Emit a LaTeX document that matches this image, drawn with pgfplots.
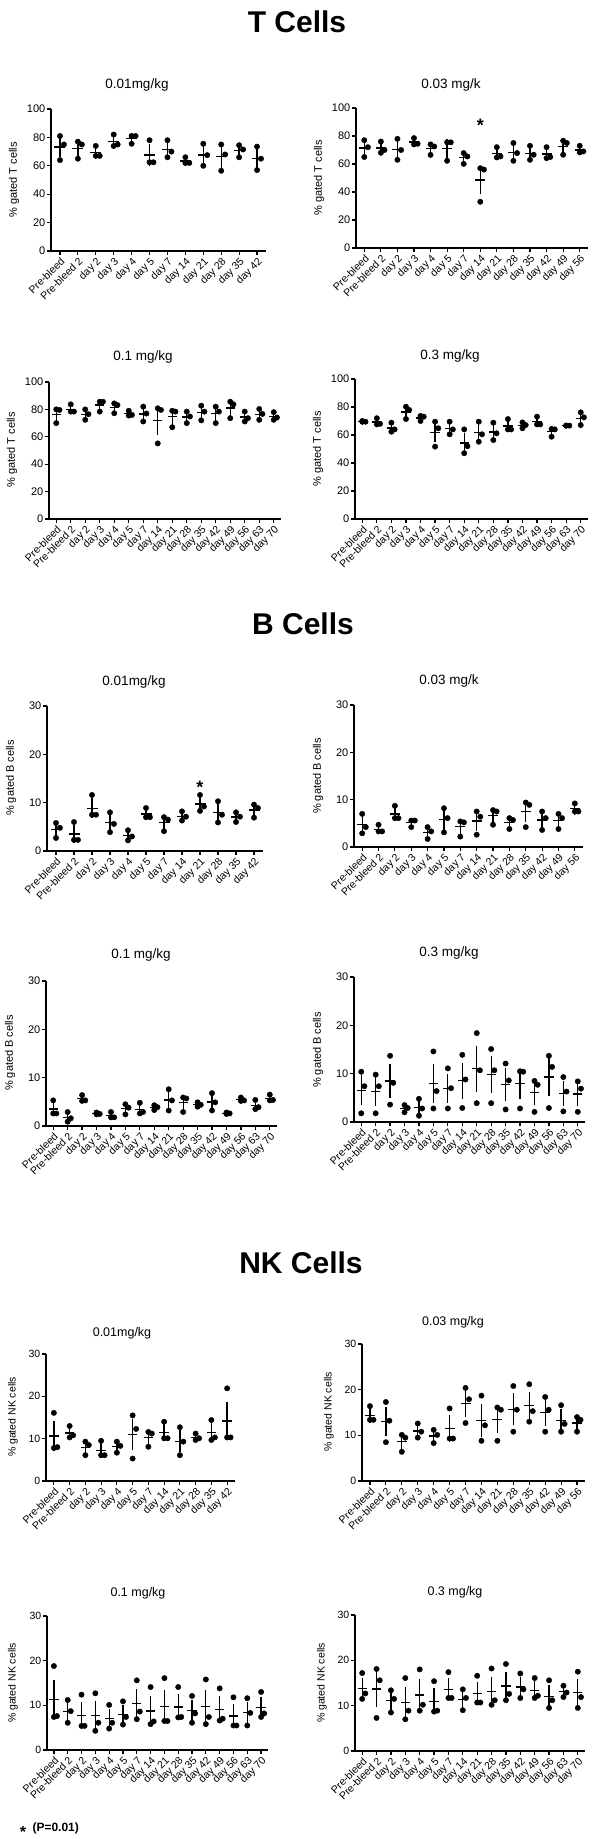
\documentclass[border=0pt]{standalone}
\usepackage{fontspec}
\setmainfont{Liberation Sans}
\usepackage{pgfplots}
\usepackage{pgfplotstable}
\pgfplotsset{compat=1.18}
\newcommand\fs[1]{\fontsize{#1}{#1}\selectfont}

% ---------------- T cells ----------------
\pgfplotstableread{
a b c
81 75 64
77 75 65
74 67 67
82 75 74
81 81 75.5
78 62.5 62.5
78 70 66
66 62 62
75.5 67.5 60
75 68 56.5
74.5 71.5 66
73.5 65 57
}\Tone
\pgfplotstableread{
a b c
77 72 65
76 70 68
78 70 63
78.5 74.5 74
74 72.5 66.5
75.5 75.5 62.3
67.8 65.4 60.1
57 56 33
72 65.4 64.7
75 67.8 62.3
73 66.6 63
72 65 64.2
76.6 75 66.6
73 69 68.3
}\Ttwo
\pgfplotstableread{
a b c
80 79.6 70
83.7 78.4 78.4
80 76.5 72.4
85.6 85.6 78.4
84.4 83.2 77.2
79 76 75.5
82 77 71.2
80.8 79.6 55.2
79 78.4 67
78.4 74.8 70
82.7 78.4 72
82 78.4 70
85.6 83.7 73.6
78.4 73.6 71.2
80.3 76.7 72.4
78 74.1 72.4
}\Tthree
\pgfplotstableread{
a b c
70 69.5 69.5
72 68 67.6
68.8 64 62.4
80.2 77.9 71.4
73.6 73.1 70
69.5 64.8 51.7
69.5 64 60.5
64 52 47
69.5 60.5 55.2
68.8 61.2 56.4
71.4 64 64
69 67.1 64.8
73.1 67.6 67.6
64.3 64 58.8
66.7 66.7 66.7
76.2 72.6 67.1
}\Tfour
% ---------------- B cells ----------------
\pgfplotstableread{
a b c
5.8 4.8 2.7
6.0 2.3 2.3
11.6 7.5 7.5
8.0 5.6 3.9
4.3 3.0 2.2
8.9 7.0 7.0
7.0 6.5 4.1
8.2 7.1 6.3
11.6 9.2 8.3
10.3 7.5 5.9
8.0 7.1 6.0
9.6 8.9 6.9
}\Bone
\pgfplotstableread{
a b c
7.0 4.2 2.9
4.7 3.3 3.3
8.7 6.1 6.1
5.6 5.6 4.2
4.2 3.3 1.7
8.2 6.1 3.1
5.4 5.2 2.2
7.5 6.4 2.6
7.8 7.5 4.7
6.1 5.7 3.8
9.4 8.9 4.2
7.5 6.1 3.6
7.0 6.1 3.8
9.2 7.5 7.5
}\Btwo
\pgfplotstableread{
a b c
5.3 2.6 2.6
2.9 1.6 0.9
6.4 5.3 5.2
2.8 2.5 2.4
2.9 1.8 1.8
4.5 3.8 2.4
4.8 2.9 2.6
4.3 3.9 3.3
7.6 5.3 3.2
5.9 5.7 2.9
4.9 4.4 4.0
6.8 4.9 3.2
2.8 2.6 2.5
5.9 5.3 5.2
5.4 3.9 3.5
6.5 5.4 5.3
}\Bthree
\pgfplotstableread{
a b c
10.4 7.4 1.8
9.8 7.4 1.8
13.7 8.1 3.6
3.5 2.9 2.0
4.8 2.8 1.3
14.6 6.4 2.8
11.1 7.0 2.8
13.9 8.8 2.9
18.4 10.7 3.9
15.1 10.7 3.9
12.1 8.6 2.6
10.5 10.4 2.8
8.5 7.7 2.1
13.7 11.4 2.9
9.3 6.3 2.2
8.4 6.9 2.1
}\Bfour
% ---------------- NK cells ----------------
\pgfplotstableread{
a b c
16.1 8.0 7.8
13.0 10.8 10.3
9.3 8.5 6.1
9.5 6.1 6.1
9.3 8.3 6.7
15.5 12.3 5.3
11.6 11.2 8.1
14.0 10.1 10.1
12.7 9.3 6.1
11.2 10.1 9.7
14.4 10.3 9.7
21.9 10.3 10.3
}\None
\pgfplotstableread{
a b c
16.4 13.4 13.4
17.3 13.2 8.5
10.1 9.5 6.4
12.6 10.8 9.5
11.2 10.1 8.3
15.9 9.3 9.3
20.4 17.9 12.7
18.7 12.2 8.8
16.1 15.6 8.8
20.8 15.6 10.8
21.2 15.3 13.0
18.4 15.6 10.8
16.6 12.5 10.8
14.0 13.4 10.8
}\Ntwo
\pgfplotstableread{
a b c
18.8 7.6 7.4
11.2 8.7 6.1
12.4 5.4 5.4
12.7 6.1 4.3
10.1 6.1 4.8
10.9 7.4 5.7
15.6 8.6 6.9
14.1 6.4 5.8
16.1 6.5 6.5
14.1 7.4 7.3
12.1 8.2 6.1
15.8 7.4 5.8
13.8 7.0 6.6
11.8 5.5 5.5
11.6 8.3 5.5
13.0 8.2 7.4
}\Nthree
\pgfplotstableread{
a b c
17.2 12.7 11.5
18.1 15.6 7.3
13.4 11.5 8.5
16.1 8.9 7.0
18.0 10.2 8.9
15.4 8.9 8.7
17.4 11.7 11.7
13.6 11.7 9.0
16.6 10.7 10.7
18.2 11.2 10.2
19.2 12.6 11.2
17.1 13.6 11.7
16.1 12.2 11.7
15.6 11.2 9.5
14.4 12.9 11.9
17.5 11.9 9.5
}\Nfour

\newcommand\meanexpr{((\thisrow{a}+\thisrow{b}+\thisrow{c})/3)}
\newcommand\semexpr{sqrt(((\thisrow{a}-\meanexpr)*(\thisrow{a}-\meanexpr)+(\thisrow{b}-\meanexpr)*(\thisrow{b}-\meanexpr)+(\thisrow{c}-\meanexpr)*(\thisrow{c}-\meanexpr))/6)}

\newcommand\drawdata[3]{%
  \addplot[only marks, mark=*, mark size=2.7pt, black] table[x expr=\coordindex, y=a] {#1};
  \addplot[only marks, mark=*, mark size=2.7pt, black] table[x expr=\coordindex+0.22, y=b] {#1};
  \addplot[only marks, mark=*, mark size=2.7pt, black] table[x expr=\coordindex, y=c] {#1};
  \addplot[only marks, black, mark=-, mark size=#2, mark options={line width=1.3pt, black},
    error bars/.cd, y dir=both, y explicit,
    error bar style={line width=1.3pt, black},
    error mark=-, error mark options={mark size=#3, line width=1.3pt, black}]
    table[x expr=\coordindex, y expr=\meanexpr, y error expr=\semexpr] {#1};
}

\pgfplotsset{
  gp/.style={
    scale only axis, anchor=south west,
    axis lines=left, axis line style={line width=1.6pt, -, black},
    tick align=outside, major tick length=4pt,
    every tick/.style={line width=1.2pt, black},
    ymin=0, clip=false,
    yticklabel style={font=\fs{11}, inner sep=1.5pt},
    xticklabel style={font=\fs{10.5}, rotate=45, anchor=north east, inner sep=1pt},
    /pgf/number format/assume math mode=true,
  },
  g12/.style={xmin=-0.5, xmax=11.5, xtick={0,...,11},
    xticklabels={Pre-bleed,Pre-bleed 2,day 2,day 3,day 4,day 5,day 7,day 14,day 21,day 28,day 35,day 42}},
  g14/.style={xmin=-0.5, xmax=13.5, xtick={0,...,13},
    xticklabels={Pre-bleed,Pre-bleed 2,day 2,day 3,day 4,day 5,day 7,day 14,day 21,day 28,day 35,day 42,day 49,day 56}},
  g16/.style={xmin=-0.5, xmax=15.5, xtick={0,...,15},
    xticklabels={Pre-bleed,Pre-bleed 2,day 2,day 3,day 4,day 5,day 7,day 14,day 21,day 28,day 35,day 42,day 49,day 56,day 63,day 70}},
  tc/.style={ymax=100, ytick={0,20,40,60,80,100}},
  bc/.style={ymax=30, ytick={0,10,20,30}},
  nk/.style={ymax=30, ytick={0,10,20,30}, yticklabel style={font=\fs{10.5}}},
}

\begin{document}
\begin{tikzpicture}[x=1pt,y=1pt]
\useasboundingbox (0,0) rectangle (592,-1839);

% ===== section titles =====
\node[font=\fs{30}\bfseries] at (297,-22) {T Cells};
\node[font=\fs{30}\bfseries] at (303,-624) {B Cells};
\node[font=\fs{30}\bfseries] at (301,-1263) {NK Cells};

% ===== T cells =====
\node[font=\fs{13.5}] at (137,-85) {0.01mg/kg};
\node[font=\fs{13.5}] at (451,-85) {0.03 mg/k};
\node[font=\fs{13.5}] at (143,-357) {0.1 mg/kg};
\node[font=\fs{13.5}] at (450,-356) {0.3 mg/kg};
\node[font=\fs{11}, rotate=90] at (14,-180) {\% gated T cells};
\node[font=\fs{11}, rotate=90] at (319,-178) {\% gated T cells};
\node[font=\fs{11}, rotate=90] at (12,-450) {\% gated T cells};
\node[font=\fs{11}, rotate=90] at (318,-449) {\% gated T cells};

\begin{axis}[gp, tc, g12, at={(51pt,-251pt)}, width=215pt, height=142pt]
\drawdata{\Tone}{5.5pt}{3.3pt}
\end{axis}
\begin{axis}[gp, tc, g14, at={(356pt,-248pt)}, width=232pt, height=140pt]
\drawdata{\Ttwo}{5pt}{3pt}
\node[font=\fs{18}\bfseries, anchor=base] at (axis cs:7,83) {*};
\end{axis}
\begin{axis}[gp, tc, g16, at={(49pt,-519pt)}, width=232pt, height=137pt]
\drawdata{\Tthree}{4.6pt}{2.8pt}
\end{axis}
\begin{axis}[gp, tc, g16, at={(355pt,-519pt)}, width=233pt, height=140pt]
\drawdata{\Tfour}{4.6pt}{2.8pt}
\end{axis}

% ===== B cells =====
\node[font=\fs{13.5}] at (134,-682) {0.01mg/kg};
\node[font=\fs{13.5}] at (449,-681) {0.03 mg/k};
\node[font=\fs{13.5}] at (141,-955) {0.1 mg/kg};
\node[font=\fs{13.5}] at (449,-953) {0.3 mg/kg};
\node[font=\fs{11}, rotate=90] at (11,-778) {\% gated B cells};
\node[font=\fs{11}, rotate=90] at (318,-776) {\% gated B cells};
\node[font=\fs{11}, rotate=90] at (10,-1053) {\% gated B cells};
\node[font=\fs{11}, rotate=90] at (318,-1050) {\% gated B cells};

\begin{axis}[gp, bc, g12, at={(47pt,-851pt)}, width=216pt, height=145pt]
\drawdata{\Bone}{5.5pt}{3.3pt}
\node[font=\fs{18}\bfseries, anchor=base] at (axis cs:8,11.9) {*};
\end{axis}
\begin{axis}[gp, bc, g14, at={(354pt,-847pt)}, width=229pt, height=142pt]
\drawdata{\Btwo}{5pt}{3pt}
\end{axis}
\begin{axis}[gp, bc, g16, at={(46pt,-1126pt)}, width=231pt, height=145pt]
\drawdata{\Bthree}{4.6pt}{2.8pt}
\end{axis}
\begin{axis}[gp, bc, g16, at={(354pt,-1122pt)}, width=231pt, height=145pt]
\drawdata{\Bfour}{4.6pt}{2.8pt}
\end{axis}

% ===== NK cells =====
\node[font=\fs{12.5}] at (122,-1333) {0.01mg/kg};
\node[font=\fs{12.5}] at (453,-1322) {0.03 mg/kg};
\node[font=\fs{12.5}] at (138,-1593) {0.1 mg/kg};
\node[font=\fs{12.5}] at (455,-1592) {0.3 mg/kg};
\node[font=\fs{10.5}, rotate=90] at (13,-1417) {\% gated NK cells};
\node[font=\fs{10.5}, rotate=90] at (329,-1412) {\% gated NK cells};
\node[font=\fs{10.5}, rotate=90] at (13,-1683) {\% gated NK cells};
\node[font=\fs{10.5}, rotate=90] at (322,-1683) {\% gated NK cells};

\begin{axis}[gp, nk, g12, at={(46pt,-1481pt)}, width=189pt, height=127pt]
\drawdata{\None}{4.8pt}{3pt}
\end{axis}
\begin{axis}[gp, nk, g14, at={(362pt,-1481pt)}, width=223pt, height=137pt]
\drawdata{\Ntwo}{5pt}{3pt}
\end{axis}
\begin{axis}[gp, nk, g16, at={(47pt,-1750pt)}, width=221pt, height=134pt]
\drawdata{\Nthree}{4.6pt}{2.8pt}
\end{axis}
\begin{axis}[gp, nk, g16, at={(355pt,-1751pt)}, width=230pt, height=136pt]
\drawdata{\Nfour}{4.6pt}{2.8pt}
\end{axis}

% ===== footnote =====
\node[font=\fs{16}\bfseries, anchor=center] at (23,-1832) {*};
\node[font=\fs{12}\bfseries, anchor=west] at (29,-1828) {(P=0.01)};
\end{tikzpicture}
\end{document}
